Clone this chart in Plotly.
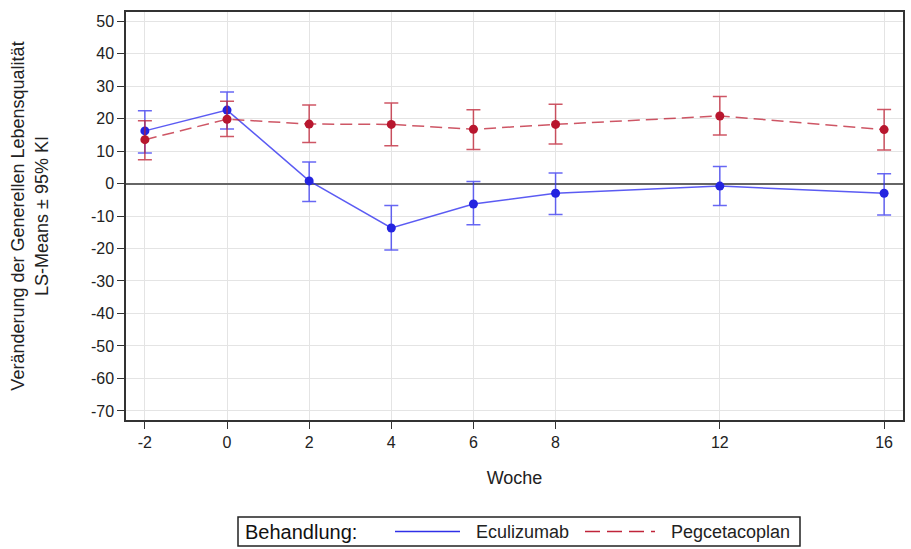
import plotly.graph_objects as go

weeks = [-2, 0, 2, 4, 6, 8, 12, 16]
x_ticks = [-2, 0, 2, 4, 6, 8, 12, 16]
y_ticks = list(range(-70, 51, 10))

ecu_mean = [16.2, 22.6, 0.8, -13.7, -6.3, -3.0, -0.8, -3.0]
ecu_upper = [22.4, 28.2, 6.6, -6.8, 0.6, 3.2, 5.2, 3.0]
ecu_lower = [9.4, 16.8, -5.5, -20.5, -12.7, -9.5, -6.8, -9.7]

peg_mean = [13.5, 19.8, 18.3, 18.2, 16.7, 18.2, 20.8, 16.6]
peg_upper = [19.3, 25.3, 24.2, 24.8, 22.7, 24.4, 26.8, 22.8]
peg_lower = [7.3, 14.5, 12.6, 11.6, 10.5, 12.2, 14.9, 10.3]

series_names = ["Eculizumab", "Pegcetacoplan"]
legend_title = "Behandlung:"

FONT = "Liberation Sans, Arial, sans-serif"
BLUE_LINE = "rgba(45,45,240,0.78)"
BLUE_MARK = "#2424e0"
RED_LINE = "rgba(190,30,50,0.75)"
RED_MARK = "#b8162e"
DASH = "12px,6px"


def err(mean, up, lo, color):
    return dict(type="data", symmetric=False,
                array=[u - m for u, m in zip(up, mean)],
                arrayminus=[m - l for m, l in zip(mean, lo)],
                color=color, thickness=1.5, width=7)


fig = go.Figure()
fig.add_trace(go.Scatter(
    x=weeks, y=ecu_mean, name=series_names[0], mode="lines+markers",
    line=dict(color=BLUE_LINE, width=1.5),
    marker=dict(color=BLUE_MARK, size=9),
    error_y=err(ecu_mean, ecu_upper, ecu_lower, "rgba(45,45,240,0.72)"),
    showlegend=False,
))
fig.add_trace(go.Scatter(
    x=weeks, y=peg_mean, name=series_names[1], mode="lines+markers",
    line=dict(color=RED_LINE, width=1.5, dash=DASH),
    marker=dict(color=RED_MARK, size=9),
    error_y=err(peg_mean, peg_upper, peg_lower, "rgba(190,30,50,0.75)"),
    showlegend=False,
))

# Manual legend (SAS-style) below the plot, in paper coordinates
PL, PW, PB, PH = 126, 777, 420, 408  # plot-area pixel geometry


def px(x):
    return (x - PL) / PW


def py(y):
    return (PB - y) / PH


ymid = py(531.5)
shapes = [
    dict(type="rect", xref="paper", yref="paper",
         x0=px(238), x1=px(800), y0=py(546), y1=py(517),
         line=dict(color="#222", width=1.5), fillcolor="white"),
    dict(type="line", xref="paper", yref="paper",
         x0=px(395), x1=px(460), y0=ymid, y1=ymid,
         line=dict(color="#3030e8", width=1.5)),
    dict(type="line", xref="paper", yref="paper",
         x0=px(585), x1=px(655), y0=ymid, y1=ymid,
         line=dict(color="#c0243a", width=1.5, dash="15px,7px")),
]
annotations = [
    dict(text=legend_title, xref="paper", yref="paper", x=px(243), y=ymid,
         xanchor="left", yanchor="middle", showarrow=False,
         font=dict(family=FONT, size=20, color="#111")),
    dict(text=series_names[0], xref="paper", yref="paper", x=px(474), y=ymid,
         xanchor="left", yanchor="middle", showarrow=False,
         font=dict(family=FONT, size=18, color="#222")),
    dict(text=series_names[1], xref="paper", yref="paper", x=px(669), y=ymid,
         xanchor="left", yanchor="middle", showarrow=False,
         font=dict(family=FONT, size=18, color="#222")),
]

fig.update_layout(
    width=911, height=549,
    margin=dict(l=126, r=8, t=12, b=129),
    paper_bgcolor="white", plot_bgcolor="white",
    font=dict(family=FONT, size=16, color="#222"),
    showlegend=False,
    shapes=shapes,
    annotations=annotations,
    xaxis=dict(
        range=[-2.46, 16.46], tickvals=x_ticks, ticktext=[str(t) for t in x_ticks],
        showgrid=True, gridcolor="#e4e4e4", gridwidth=1,
        ticks="outside", ticklen=7, tickcolor="#333", tickwidth=1.2,
        showline=True, linecolor="#333", linewidth=1.5, mirror=True,
        zeroline=False, automargin=False,
        tickfont=dict(size=16),
        title=dict(text="Woche", font=dict(size=18), standoff=21),
    ),
    yaxis=dict(
        range=[-72.8, 52.8], tickvals=y_ticks, ticktext=[str(t) for t in y_ticks],
        showgrid=True, gridcolor="#e4e4e4", gridwidth=1,
        ticks="outside", ticklen=7, tickcolor="#333", tickwidth=1.2,
        showline=True, linecolor="#333", linewidth=1.5, mirror=True,
        zeroline=True, zerolinecolor="#666", zerolinewidth=1.5,
        automargin=False,
        tickfont=dict(size=16),
        title=dict(text="Veränderung der Generellen Lebensqualität<br>LS-Means ± 95% KI",
                   font=dict(size=18), standoff=38),
    ),
)

fig.write_html("out.html")
